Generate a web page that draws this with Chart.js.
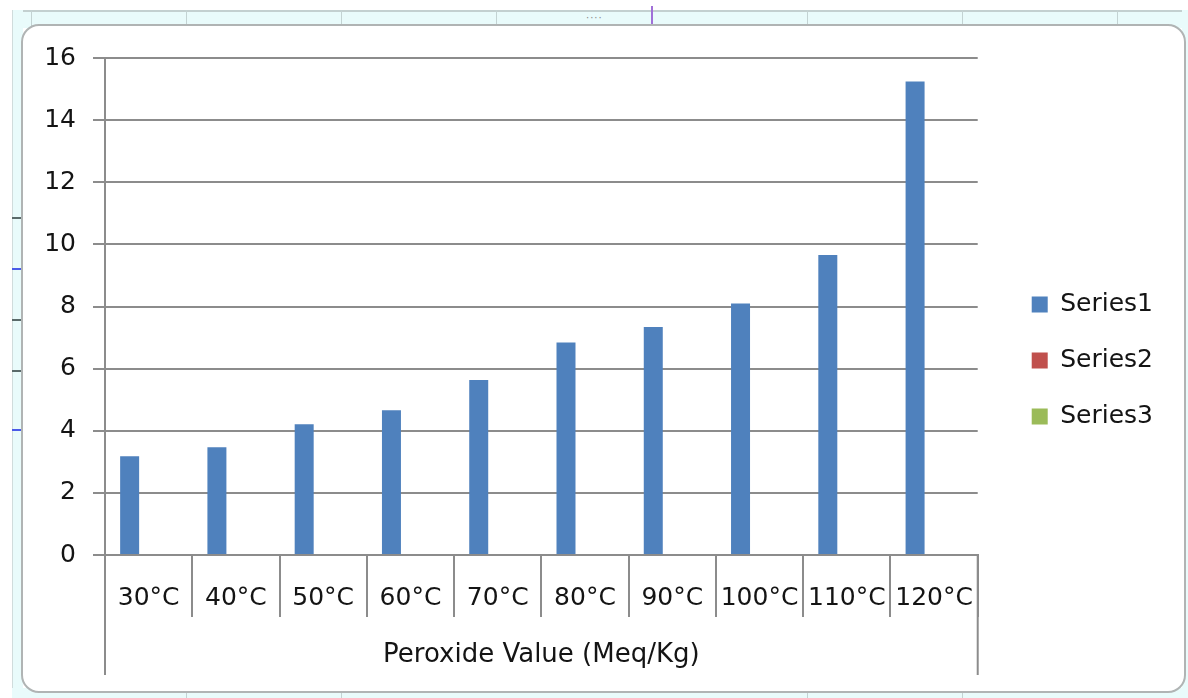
<!DOCTYPE html>
<html>
<head>
<meta charset="utf-8">
<script src="https://cdn.jsdelivr.net/npm/chart.js@4.4.1/dist/chart.umd.min.js"></script>
<style>
  html, body { margin: 0; padding: 0; background: #ffffff; }
  #page { position: relative; width: 1188px; height: 698px; overflow: hidden; background: #ffffff; }
  .sheet { position: absolute; background: #e9fbfb; }
  .vline { position: absolute; width: 1px; background: #c3d3d3; }
  .mark { position: absolute; height: 2px; }
  #box { position: absolute; left: 21px; top: 24px; width: 1161px; height: 665px;
         border: 2px solid #b0b4b4; border-radius: 18px; background: #ffffff; }
  canvas { position: absolute; left: 0; top: 0; }
  .dots { position: absolute; font: 10px "DejaVu Sans"; color: #8a8a8a; letter-spacing: 1px; }
</style>
</head>
<body>
<div id="page">
  <div class="sheet" style="left:12px; top:10px; width:1176px; height:16px; border-top:2px solid #c3d0d0;"></div>
  <div class="sheet" style="left:12px; top:10px; width:10px; height:688px; border-left:1px solid #d0dcdc;"></div>
  <div class="sheet" style="left:12px; top:688px; width:1176px; height:10px;"></div>
  <div class="sheet" style="left:1182px; top:10px; width:6px; height:688px;"></div>
  <div class="vline" style="left:31px; top:10px; height:16px;"></div>
  <div class="vline" style="left:186px; top:10px; height:16px;"></div>
  <div class="vline" style="left:341px; top:10px; height:16px;"></div>
  <div class="vline" style="left:496px; top:10px; height:16px;"></div>
  <div class="vline" style="left:651px; top:6px; height:20px; width:2px; background:#a070d8;"></div>
  <div class="vline" style="left:807px; top:10px; height:16px;"></div>
  <div class="vline" style="left:962px; top:10px; height:16px;"></div>
  <div class="vline" style="left:1117px; top:10px; height:16px;"></div>
  <div class="vline" style="left:186px; top:690px; height:8px;"></div>
  <div class="vline" style="left:341px; top:690px; height:8px;"></div>
  <div class="vline" style="left:807px; top:690px; height:8px;"></div>
  <div class="vline" style="left:962px; top:690px; height:8px;"></div>
  <div class="mark" style="left:12px; top:217px; width:9px; background:#5a6a6a;"></div>
  <div class="mark" style="left:12px; top:268px; width:9px; background:#4a5ae8;"></div>
  <div class="mark" style="left:12px; top:319px; width:9px; background:#5a6a6a;"></div>
  <div class="mark" style="left:12px; top:370px; width:9px; background:#5a6a6a;"></div>
  <div class="mark" style="left:12px; top:429px; width:9px; background:#4a5ae8;"></div>
  <div class="dots" style="left:586px; top:12px;">····</div>
  <div id="box"></div>
  <canvas id="c" width="1188" height="698"></canvas>
</div>
<script>
const categories = ['30°C', '40°C', '50°C', '60°C', '70°C', '80°C', '90°C', '100°C', '110°C', '120°C'];
const series1 = [3.18, 3.47, 4.21, 4.66, 5.63, 6.84, 7.34, 8.10, 9.66, 15.24];
const series2 = [null, null, null, null, null, null, null, null, null, null];
const series3 = [null, null, null, null, null, null, null, null, null, null];
const seriesNames = ['Series1', 'Series2', 'Series3'];
const seriesColors = ['#4f81bd', '#c0504d', '#9bbb59'];
const axisTitle = 'Peroxide Value (Meq/Kg)';
const yMin = 0, yMax = 16, yStep = 2;

const FONT = 'DejaVu Sans';
const GRID = '#8c8c8c';
const TEXT = '#141414';
const SEP_EXTRA = 12;

const outerSeparators = {
  id: 'outerSeparators',
  afterDraw(chart) {
    const x = chart.scales.x;
    const ctx = chart.ctx;
    ctx.save();
    ctx.strokeStyle = GRID;
    ctx.lineWidth = 2;
    ctx.beginPath();
    ctx.moveTo(x.left, chart.chartArea.bottom);
    ctx.lineTo(x.left, x.bottom + SEP_EXTRA);
    ctx.moveTo(x.right, chart.chartArea.bottom);
    ctx.lineTo(x.right, x.bottom + SEP_EXTRA);
    ctx.stroke();
    ctx.restore();
  }
};

new Chart(document.getElementById('c'), {
  type: 'bar',
  data: {
    labels: categories,
    datasets: [series1, series2, series3].map((d, i) => ({
      label: seriesNames[i],
      data: d,
      backgroundColor: seriesColors[i],
      borderWidth: 0,
      categoryPercentage: 0.653,
      barPercentage: 1.0
    }))
  },
  options: {
    responsive: false,
    animation: false,
    layout: { padding: { left: 22, top: 58, right: 25, bottom: 35 } },
    plugins: {
      tooltip: { enabled: false },
      legend: {
        position: 'right',
        align: 'center',
        labels: {
          boxWidth: 16,
          boxHeight: 16,
          padding: 31,
          color: TEXT,
          font: { family: FONT, size: 25 }
        }
      }
    },
    scales: {
      x: {
        type: 'category',
        offset: true,
        grid: { display: true, drawOnChartArea: false, offset: true, tickLength: 62, color: GRID, lineWidth: 2 },
        border: { display: true, color: GRID, width: 2 },
        ticks: { color: TEXT, font: { family: FONT, size: 25 }, padding: -34, maxRotation: 0, autoSkip: false },
        title: { display: true, text: axisTitle, color: TEXT, font: { family: FONT, size: 26 }, padding: { top: 0, bottom: -8 } },
        afterFit(s) { s.height = 108; }
      },
      y: {
        min: yMin, max: yMax,
        ticks: { stepSize: yStep, color: TEXT, font: { family: FONT, size: 25 }, padding: 17 },
        grid: { color: GRID, lineWidth: 2, tickLength: 12 },
        border: { display: true, color: GRID, width: 2 },
        afterFit(s) { s.width = 83; }
      },
      y2: {
        type: 'linear',
        position: 'right',
        display: true,
        grid: { display: false, drawOnChartArea: false },
        border: { display: false },
        ticks: { display: false },
        afterFit(s) { s.width = 23; }
      }
    }
  },
  plugins: [outerSeparators]
});
</script>
</body>
</html>
